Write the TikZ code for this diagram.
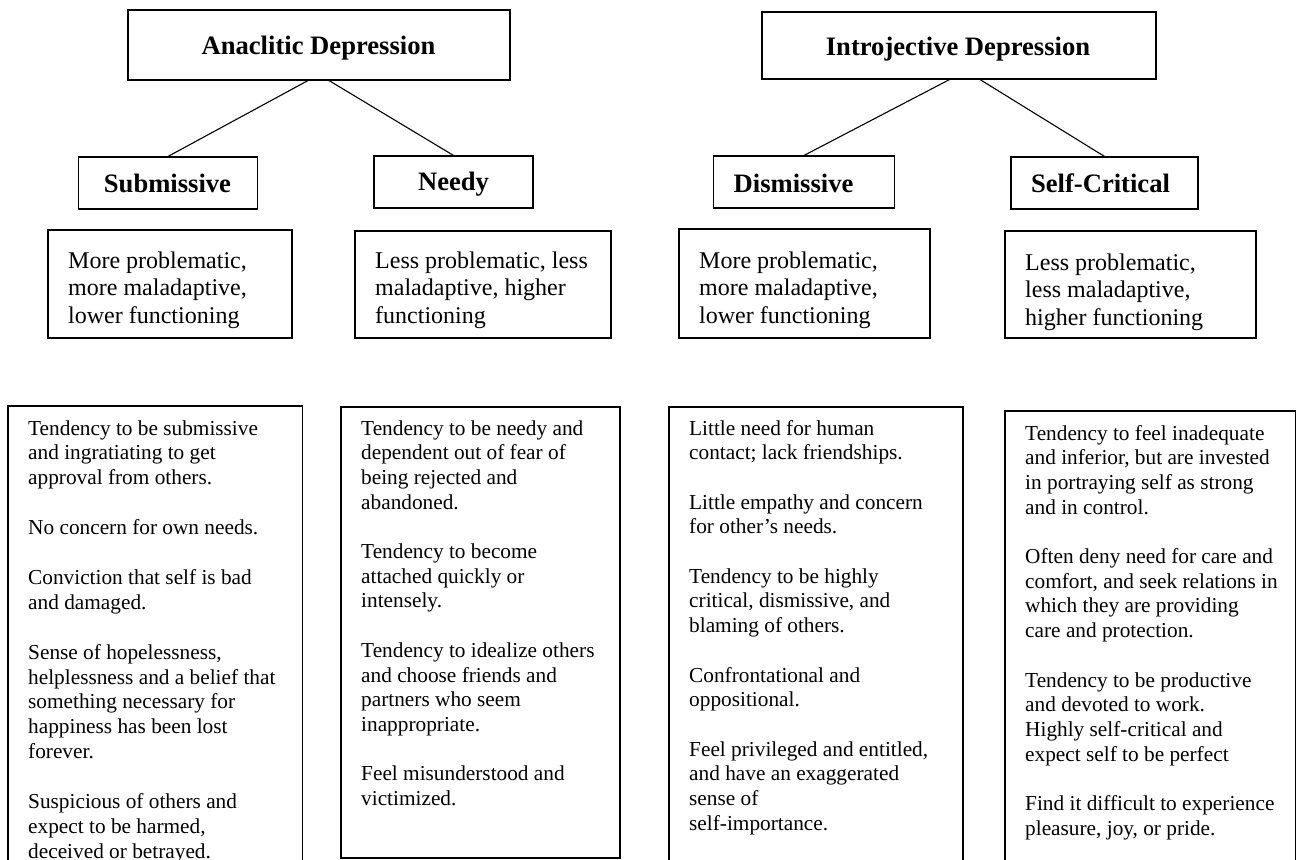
\documentclass[tikz,border=0pt]{standalone}
\usepackage{fontspec}
\setmainfont{Liberation Serif}
\usetikzlibrary{calc}
\newcommand{\lns}[1]{\begin{tabular}[t]{@{}l@{}}#1\end{tabular}}
\begin{document}
\begin{tikzpicture}[x=1pt,y=-1pt,
  box/.style={draw=black, line width=1.1pt, inner sep=0pt},
  head/.style={font=\fontsize{26.6}{30}\selectfont\bfseries, inner sep=0pt, anchor=base},
  midtext/.style={font=\fontsize{24}{27.6}\selectfont, inner sep=0pt, anchor=base west},
  lowtext/.style={font=\fontsize{21.3}{24.7}\selectfont, inner sep=0pt, anchor=base west},
  link/.style={line width=1.1pt}]
\useasboundingbox (0,0) rectangle (1297,859);
\fill[white] (0,0) rectangle (1297,859);
\clip (0,0) rectangle (1297,859);

% top level boxes
\node[box, minimum width=382pt, minimum height=70pt] (ana) at (319,45) {};
\node[head] (anaT) at (318.5,55) {Anaclitic Depression};
\node[box, minimum width=394pt, minimum height=67pt] (intro) at (959,45.5) {};
\node[head] (introT) at (958,56) {Introjective Depression};

% second level boxes
\node[box, minimum width=178.5pt, minimum height=52pt] (sub) at (168,183) {};
\node[head] (subT) at (167.5,192) {Submissive};
\node[box, minimum width=159pt, minimum height=52pt] (need) at (453.5,182) {};
\node[head] (needT) at (453.5,190) {Needy};
\node[box, minimum width=180.5pt, minimum height=52pt] (dis) at (804,182) {};
\node[head] (disT) at (793.5,192) {Dismissive};
\node[box, minimum width=187pt, minimum height=52pt] (selfc) at (1104.5,183) {};
\node[head] (selfcT) at (1100.5,192) {Self-Critical};

% connectors
\draw[link] ($(ana.south)+(-11,0)$) -- (sub.north);
\draw[link] ($(ana.south)+(10,0)$) -- (need.north);
\draw[link] ($(intro.south)+(-9.5,0)$) -- (dis.north);
\draw[link] ($(intro.south)+(21,0)$) -- (selfc.north);

% description boxes
\node[box, minimum width=244pt, minimum height=108pt] (d1) at (170,284) {};
\node[midtext] (d1T) at (68,268) {\lns{More problematic,\\ more maladaptive,\\ lower functioning}};
\node[box, minimum width=256pt, minimum height=107pt] (d2) at (483,284.5) {};
\node[midtext] (d2T) at (375,268) {\lns{Less problematic, less\\ maladaptive, higher\\ functioning}};
\node[box, minimum width=251pt, minimum height=109pt] (d3) at (804.5,283.5) {};
\node[midtext] (d3T) at (699,268) {\lns{More problematic,\\ more maladaptive,\\ lower functioning}};
\node[box, minimum width=251pt, minimum height=107pt] (d4) at (1130.5,284.5) {};
\node[midtext] (d4T) at (1025,270) {\lns{Less problematic,\\ less maladaptive,\\ higher functioning}};

% trait boxes
\node[box, minimum width=294.5pt, minimum height=494pt] (b5) at (155.25,653) {};
\node[lowtext, font=\fontsize{21.3}{24.9}\selectfont] (b5T) at (28,435) {\lns{Tendency to be submissive\\ and ingratiating to get\\ approval from others.\\ \\ No concern for own needs.\\ \\ Conviction that self is bad\\ and damaged.\\ \\ Sense of hopelessness,\\ helplessness and a belief that\\ something necessary for\\ happiness has been lost\\ forever.\\ \\ Suspicious of others and\\ expect to be harmed,\\ deceived or betrayed.}};

\node[box, minimum width=279pt, minimum height=451pt] (b6) at (480.5,632.5) {};
\node[lowtext] (b6T) at (361,435) {\lns{Tendency to be needy and\\ dependent out of fear of\\ being rejected and\\ abandoned.\\ \\ Tendency to become\\ attached quickly or\\ intensely.\\ \\ Tendency to idealize others\\ and choose friends and\\ partners who seem\\ inappropriate.\\ \\ Feel misunderstood and\\ victimized.}};

\node[box, minimum width=294pt, minimum height=493pt] (b7) at (816,653.5) {};
\node[lowtext] (b7T) at (689,435) {\lns{Little need for human\\ contact; lack friendships.\\ \\ Little empathy and concern\\ for other’s needs.\\ \\ Tendency to be highly\\ critical, dismissive, and\\ blaming of others.\\ \\ Confrontational and\\ oppositional.\\ \\ Feel privileged and entitled,\\ and have an exaggerated\\ sense of\\ self-importance.}};

\node[box, minimum width=290.5pt, minimum height=489pt] (b8) at (1150.25,655.5) {};
\node[lowtext] (b8T) at (1025,440) {\lns{Tendency to feel inadequate\\ and inferior, but are invested\\ in portraying self as strong\\ and in control.\\ \\ Often deny need for care and\\ comfort, and seek relations in\\ which they are providing\\ care and protection.\\ \\ Tendency to be productive\\ and devoted to work.\\ Highly self-critical and\\ expect self to be perfect\\ \\ Find it difficult to experience\\ pleasure, joy, or pride.}};
\end{tikzpicture}
\end{document}
